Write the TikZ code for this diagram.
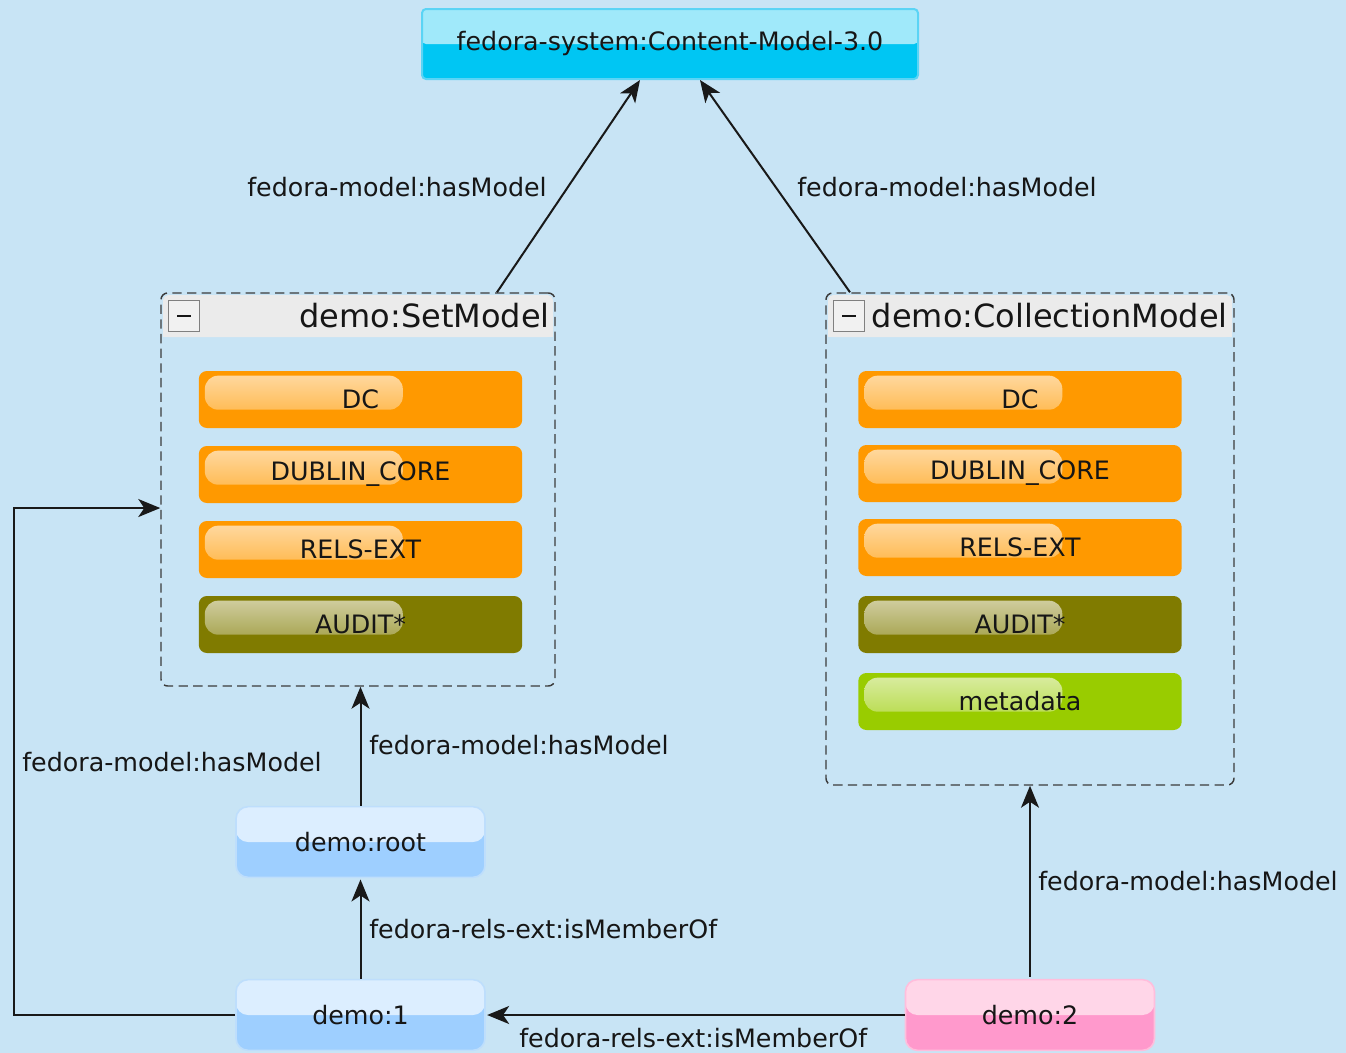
\documentclass[tikz,border=0pt]{standalone}
\usepackage{fontspec}
\setmainfont{DejaVu Sans}
\usetikzlibrary{arrows.meta}

\definecolor{bg}{RGB}{200,228,245}
\definecolor{ink}{RGB}{22,22,22}
\definecolor{linec}{RGB}{25,25,25}
\definecolor{hdr}{RGB}{235,235,235}
\definecolor{dsorange}{RGB}{255,153,0}
\definecolor{dsolive}{RGB}{128,123,0}
\definecolor{dsgreen}{RGB}{153,204,0}
\definecolor{cmtop}{RGB}{160,233,250}
\definecolor{cmbot}{RGB}{0,198,243}
\definecolor{cmline}{RGB}{90,212,245}
\definecolor{objtop}{RGB}{220,238,255}
\definecolor{objbot}{RGB}{158,207,255}
\definecolor{objline}{RGB}{190,222,252}
\definecolor{pinktop}{RGB}{255,214,232}
\definecolor{pinkbot}{RGB}{255,153,204}
\definecolor{pinkline}{RGB}{255,190,220}

\tikzset{
  twotone/.style 2 args={path picture={
      \fill[#2] (path picture bounding box.south west) rectangle (path picture bounding box.north east);
      \fill[#1] (path picture bounding box.north west) rectangle (path picture bounding box.east);}},
  % glossy highlight on the left part of a datastream bar
  gloss/.style={fill=#1, path picture={
      \shade[top color=#1!35!white, bottom color=#1!80!white, rounded corners=10pt]
        ([xshift=4.5pt,yshift=-3.5pt]path picture bounding box.north west) rectangle
        ([xshift=153pt,yshift=-29pt]path picture bounding box.north west);}},
  dsbox/.style={rounded corners=6pt, minimum width=242.5pt, minimum height=42.75pt,
      inner sep=0pt, text=ink, gloss=#1},
  objbox/.style={draw=objline, line width=1.2pt, rounded corners=9pt, minimum width=186.75pt,
      minimum height=53pt, inner sep=0pt, text=ink, twotone={objtop}{objbot}},
  container/.style={draw=linec!85!white, line width=1.1pt, dash pattern=on 7pt off 4pt,
      rounded corners=5pt, inner sep=0pt},
  title/.style={font=\fontsize{24}{28}\selectfont, text=ink, inner sep=0pt},
  minusbox/.style={draw=gray, fill=hdr!70!white, minimum size=23pt, inner sep=0pt},
  rel/.style={draw=linec, line width=1.5pt, -{Stealth[length=16.5pt,width=13.5pt,inset=4.5pt]}},
  lbl/.style={text=ink, inner sep=0pt},
}

\begin{document}
\begin{tikzpicture}[x=0.75pt, y=-0.75pt, font=\fontsize{19}{22}\selectfont]
  % canvas
  \fill[bg] (0,0) rectangle (1346,1053);
  \useasboundingbox (0,0) rectangle (1346,1053);

  % content model
  \node[draw=cmline, line width=1.5pt, rounded corners=3pt, minimum width=372pt,
        minimum height=52.5pt, inner sep=0pt, text=ink, twotone={cmtop}{cmbot}]
        (cm) at (670,44) {fedora-system:Content-Model-3.0};

  % demo:SetModel
  \fill[hdr, rounded corners=4pt] (163,295) rectangle (553,337);
  \fill[hdr] (163,320) rectangle (553,337);
  \node[container, minimum width=295.5pt, minimum height=294.75pt] (setmodel) at (358,489.5) {};
  \node[minusbox] (setmin) at (184,316) {};
  \draw[line width=2pt, ink] (177,316) -- (191,316);
  \node[title, anchor=east] (settitle) at (550,316) {demo:SetModel};

  \node[dsbox=dsorange] (sdc)    at (360.5,399.5) {DC};
  \node[dsbox=dsorange] (sdub)   at (360.5,474.5) {DUBLIN\_CORE};
  \node[dsbox=dsorange] (srels)  at (360.5,549.5) {RELS-EXT};
  \node[dsbox=dsolive]  (saudit) at (360.5,624.5) {AUDIT*};

  % demo:CollectionModel
  \fill[hdr, rounded corners=4pt] (828,295) rectangle (1232,337);
  \fill[hdr] (828,320) rectangle (1232,337);
  \node[container, minimum width=306pt, minimum height=369pt] (collmodel) at (1030,539) {};
  \node[minusbox] (collmin) at (849,316) {};
  \draw[line width=2pt, ink] (842,316) -- (856,316);
  \node[title, anchor=east] (colltitle) at (1228,316) {demo:CollectionModel};

  \node[dsbox=dsorange] (cdc)    at (1020,399.5) {DC};
  \node[dsbox=dsorange] (cdub)   at (1020,473.5) {DUBLIN\_CORE};
  \node[dsbox=dsorange] (crels)  at (1020,547.5) {RELS-EXT};
  \node[dsbox=dsolive]  (caudit) at (1020,624.5) {AUDIT*};
  \node[dsbox=dsgreen]  (cmeta)  at (1020,701.5) {metadata};

  % objects
  \node[objbox] (root) at (360.5,842) {demo:root};
  \node[objbox] (d1) at (360.5,1015) {demo:1};
  \node[objbox, draw=pinkline, twotone={pinktop}{pinkbot}] (d2) at (1030,1015) {demo:2};

  % relations
  \draw[rel] ([xshift=104.25pt]setmodel.north) -- ([xshift=-22.5pt]cm.south);
  \draw[rel] ([xshift=-135pt]collmodel.north) -- ([xshift=22.5pt]cm.south);
  \draw[rel] (root.north) -- (root.north |- setmodel.south);
  \draw[rel] (d1.north) -- ([yshift=-1pt]root.south);
  \draw[rel] (d2.west) -- ([xshift=1pt]d1.east);
  \draw[rel] (d1.west) -- (14,1015) |- ([yshift=-13.9pt]setmodel.west);
  \draw[rel] ([yshift=1.5pt]d2.north) -- (collmodel.south);

  % relation labels
  \node[lbl, anchor=east] (l1) at (547,187) {fedora-model:hasModel};
  \node[lbl, anchor=west] (l2) at (797,187) {fedora-model:hasModel};
  \node[lbl, anchor=west] (l3) at (369,745) {fedora-model:hasModel};
  \node[lbl, anchor=west] (l4) at (369,929) {fedora-rels-ext:isMemberOf};
  \node[lbl, anchor=west] (l5) at (519,1038) {fedora-rels-ext:isMemberOf};
  \node[lbl, anchor=west] (l6) at (22,762) {fedora-model:hasModel};
  \node[lbl, anchor=west] (l7) at (1038,881) {fedora-model:hasModel};
\end{tikzpicture}
\end{document}
